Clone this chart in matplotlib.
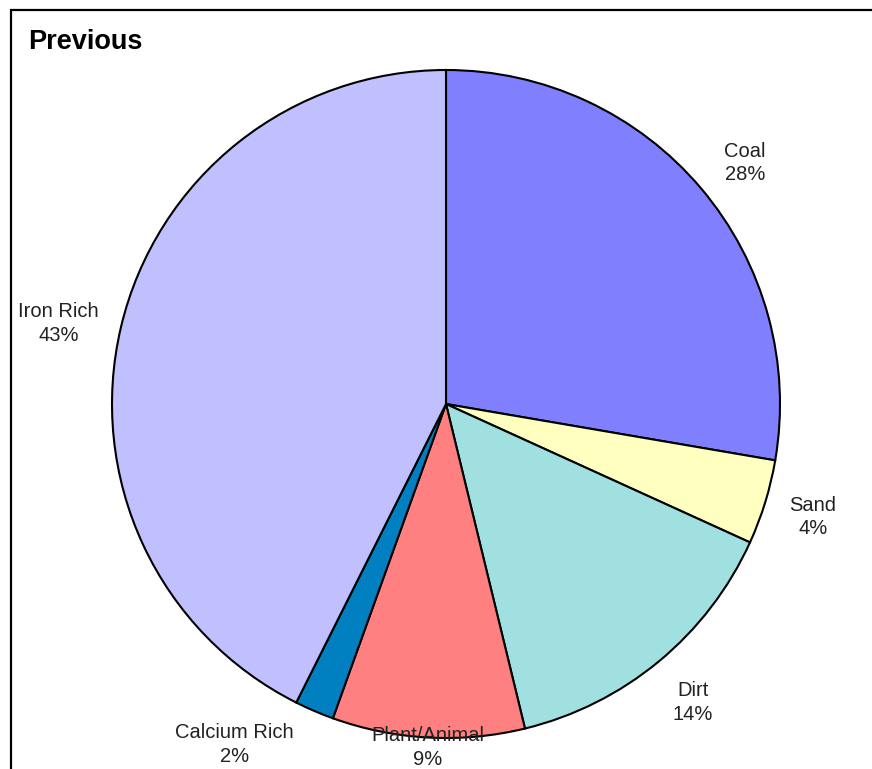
import matplotlib.pyplot as plt
import matplotlib.patches as mpatches
import numpy as np

plt.rcParams['font.family'] = ['Liberation Sans', 'DejaVu Sans']

categories = ['Coal', 'Sand', 'Dirt', 'Plant/Animal', 'Calcium Rich', 'Iron Rich']
shares = [27.7, 4.1, 14.4, 9.3, 1.9, 42.6]
colors = ['#8080FF', '#FFFFC0', '#A0E0E0', '#FF8080', '#0080C0', '#C0C0FF']
# label distance (in radii) and angle nudge (deg) per slice
label_dist = [1.15, 1.15, 1.16, 1.03, 1.20, 1.185]
label_nudge = [-1.3, 0, 0, 0, -8.6, 1.6]

fig = plt.figure(figsize=(8.72, 7.69), dpi=100)

# frame line (only left + top edges show)
fig.patches.append(mpatches.Rectangle((11 / 872, -0.2), 1.2, 1.2 - 10 / 769,
                                      transform=fig.transFigure, fill=False,
                                      edgecolor='black', linewidth=1.6))

fig.text(28 / 872, 1 - 42 / 769, 'Previous', fontsize=19.5, fontweight='bold',
         va='center', ha='left')

ax = fig.add_axes([112 / 872, 1 - 738 / 769, 668 / 872, 668 / 769])
wedges, _ = ax.pie(shares, colors=colors, startangle=90, counterclock=False,
                   wedgeprops=dict(edgecolor='black', linewidth=1.5))
ax.set_xlim(-1, 1)
ax.set_ylim(-1, 1)
ax.set_aspect('equal')
ax.axis('off')

total = sum(shares)
for w, name, v, d, nudge in zip(wedges, categories, shares, label_dist, label_nudge):
    mid = np.deg2rad((w.theta1 + w.theta2) / 2 + nudge)
    ax.text(d * np.cos(mid), d * np.sin(mid),
            f'{name}\n{round(v / total * 100)}%', ha='center', va='center',
            fontsize=14.5, linespacing=1.3, color='#222222',
            clip_on=False, zorder=5)

fig.savefig('out.png', dpi=100)
